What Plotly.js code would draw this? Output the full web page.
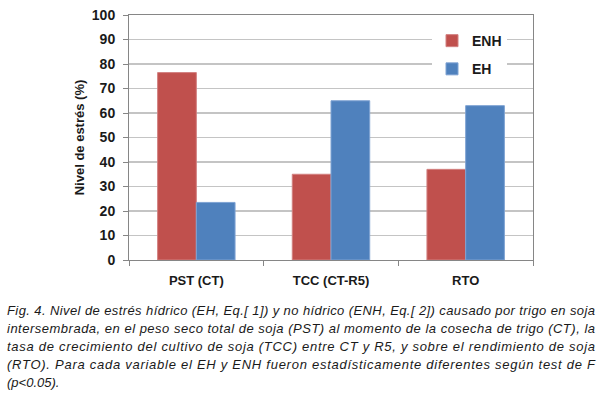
<!DOCTYPE html>
<html>
<head>
<meta charset="utf-8">
<script src="https://cdn.plot.ly/plotly-3.0.1.min.js"></script>
<style>
html,body{margin:0;padding:0;background:#fff;}
#chart{width:600px;height:396px;}
</style>
</head>
<body>
<div id="chart"></div>
<script>
const categories = ["PST (CT)", "TCC (CT-R5)", "RTO"];
const enhValues = [76.5, 35, 37];
const ehValues = [23.5, 65, 63];
const seriesNames = ["ENH", "EH"];
const yTickValues = [0, 10, 20, 30, 40, 50, 60, 70, 80, 90, 100];
const yTitle = "Nivel de estrés (%)";
const captionLines = [
  "Fig. 4. Nivel de estrés hídrico (EH, Eq.[ 1]) y no hídrico (ENH, Eq.[ 2]) causado por trigo en soja",
  "intersembrada, en el peso seco total de soja (PST) al momento de la cosecha de trigo (CT), la",
  "tasa de crecimiento del cultivo de soja (TCC) entre CT y R5, y sobre el rendimiento de soja",
  "(RTO). Para cada variable el EH y ENH fueron estadísticamente diferentes según test de F",
  "(p<0.05)."
];

const fam = "Liberation Sans, Arial, sans-serif";

const traces = [
  {type: "bar", name: seriesNames[0], x: categories, y: enhValues, legendgroup: "a",
   marker: {color: "#C0504D", line: {color: "#D28080", width: 1}}},
  {type: "bar", name: seriesNames[1], x: categories, y: ehValues, legendgroup: "b",
   marker: {color: "#4F81BD", line: {color: "#7FA3D3", width: 1}}}
];

const annotations = captionLines.map((t, i) => ({
  text: t, xref: "paper", yref: "paper", xanchor: "left", yanchor: "middle",
  x: (5 - 129) / 404, y: (260 - (310 + i * 18)) / 245, showarrow: false,
  font: {family: fam, size: 13, color: "#1a1a1a", style: "italic"},
  align: "left"
}));

const layout = {
  width: 600, height: 396,
  margin: {l: 129, r: 67, t: 15, b: 136},
  paper_bgcolor: "#fff", plot_bgcolor: "#fff",
  barmode: "group", bargap: 0.425, bargroupgap: 0,
  showlegend: true,
  legend: {x: 0.75, y: 0.959, xanchor: "left", yanchor: "top", bgcolor: "#fff",
           font: {family: fam, size: 14, color: "#1a1a1a", weight: 700},
           itemwidth: 30, tracegroupgap: 7, borderwidth: 0},
  xaxis: {showline: true, linecolor: "#868686", linewidth: 1, mirror: true,
          tickson: "boundaries", ticks: "outside", ticklen: 5, tickcolor: "#868686",
          ticklabelstandoff: 8,
          tickfont: {family: fam, size: 13, color: "#1a1a1a", weight: 700}, showgrid: false, fixedrange: true},
  yaxis: {range: [0, 100], tickvals: yTickValues, showline: true, linecolor: "#868686", linewidth: 1, mirror: true,
          ticks: "outside", ticklen: 5, tickcolor: "#868686", ticklabelstandoff: 5,
          tickfont: {family: fam, size: 14, color: "#1a1a1a", weight: 700},
          gridcolor: "#c4c4c4", gridwidth: 1.5, zeroline: false,
          title: {text: yTitle, font: {family: fam, size: 13, color: "#1a1a1a", weight: 700}, standoff: 4}},
  annotations: annotations
};

Plotly.newPlot("chart", traces, layout, {staticPlot: true, displayModeBar: false}).then(() => {
  const texts = document.querySelectorAll(".annotation-text");
  texts.forEach((el, i) => {
    if (i < 4) {
      el.setAttribute("textLength", "588");
      el.setAttribute("lengthAdjust", "spacing");
    }
  });
});
</script>
</body>
</html>
